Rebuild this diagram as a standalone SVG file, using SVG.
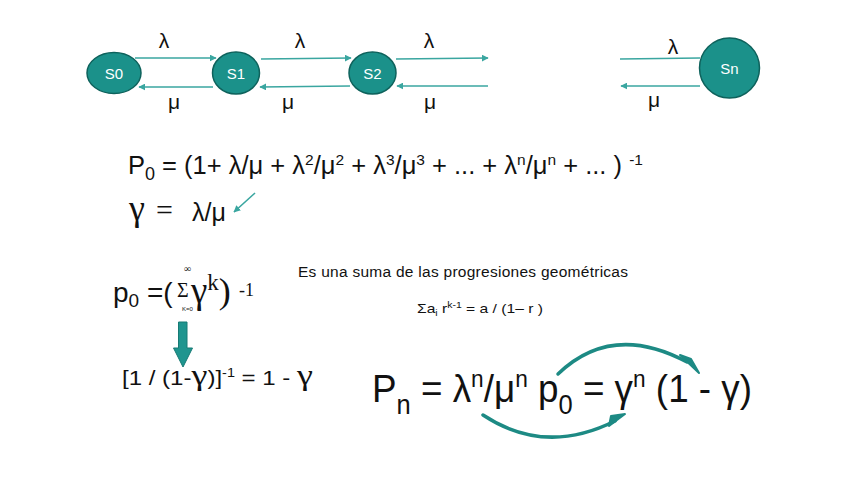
<svg xmlns="http://www.w3.org/2000/svg" width="848" height="477" viewBox="0 0 848 477">
<style>
.node{fill:#1b918a;stroke:#0e625c;stroke-width:1.5}
.nl{font-family:"Liberation Sans",Arial,sans-serif;font-size:15px;fill:#ffffff;text-anchor:middle}
.t{font-family:"Liberation Sans",Arial,sans-serif;fill:#111111}
.lbl{font-family:"Liberation Sans",Arial,sans-serif;font-size:21px;fill:#111111;text-anchor:middle}
.ln{stroke:#3aa6a0;stroke-width:1.6;fill:none}
.arc{stroke:#1d8a84;stroke-width:3.5;fill:none;stroke-linecap:round}
.serif{font-family:"Liberation Serif","Times New Roman",serif}
</style>
<defs>
<marker id="ah" viewBox="0 0 10 10" refX="9" refY="5" markerWidth="7" markerHeight="7" markerUnits="userSpaceOnUse" orient="auto">
<path d="M0,0 L10,5 L0,10 z" fill="#3aa6a0"/>
</marker>
</defs>
<rect width="848" height="477" fill="#ffffff"/>

<g id="connectors">
<line class="ln" x1="135" y1="58" x2="216" y2="58" marker-end="url(#ah)"/>
<line class="ln" x1="213" y1="87" x2="139" y2="87" marker-end="url(#ah)"/>
<line class="ln" x1="261" y1="59" x2="351" y2="58" marker-end="url(#ah)"/>
<line class="ln" x1="350" y1="86" x2="260" y2="87" marker-end="url(#ah)"/>
<line class="ln" x1="396" y1="59" x2="488" y2="58" marker-end="url(#ah)"/>
<line class="ln" x1="488" y1="86" x2="397" y2="86" marker-end="url(#ah)"/>
<line class="ln" x1="620" y1="59" x2="700" y2="58"/>
<line class="ln" x1="700" y1="86" x2="621" y2="86" marker-end="url(#ah)"/>
<line class="ln" x1="255" y1="193" x2="234" y2="212" marker-end="url(#ah)"/>
</g>

<g id="S0"><ellipse class="node" cx="114" cy="73" rx="27" ry="20.5"/><text class="nl" x="114" y="78.5">S0</text></g>
<g id="S1"><ellipse class="node" cx="236" cy="73" rx="23.5" ry="21"/><text class="nl" x="236" y="78.5">S1</text></g>
<g id="S2"><ellipse class="node" cx="372.5" cy="73" rx="23.5" ry="21"/><text class="nl" x="372.5" y="78.5">S2</text></g>
<g id="Sn"><ellipse class="node" cx="729.5" cy="68" rx="30" ry="30"/><text class="nl" x="729.5" y="73.5">Sn</text></g>

<g id="labels">
<text class="lbl" x="164" y="48">λ</text>
<text class="lbl" x="300" y="48">λ</text>
<text class="lbl" x="429" y="48">λ</text>
<text class="lbl" x="673" y="54">λ</text>
<text class="lbl" x="174" y="109">μ</text>
<text class="lbl" x="288" y="109">μ</text>
<text class="lbl" x="430" y="109">μ</text>
<text class="lbl" x="654" y="107">μ</text>
</g>

<text class="t" x="128" y="174" font-size="25.5">P<tspan font-size="18" dy="6">0</tspan><tspan dy="-6"> = (1+ λ/μ + λ</tspan><tspan font-size="15.5" dy="-9">2</tspan><tspan dy="9">/μ</tspan><tspan font-size="15.5" dy="-9">2</tspan><tspan dy="9"> + λ</tspan><tspan font-size="15.5" dy="-9">3</tspan><tspan dy="9">/μ</tspan><tspan font-size="15.5" dy="-9">3</tspan><tspan dy="9"> + ... + λ</tspan><tspan font-size="15.5" dy="-9">n</tspan><tspan dy="9">/μ</tspan><tspan font-size="15.5" dy="-9">n</tspan><tspan dy="9"> + ... ) </tspan><tspan font-size="15.5" dy="-9">-1</tspan></text>

<text class="t serif" x="129" y="220" font-size="36">γ</text>
<text class="t serif" x="156" y="220" font-size="30">=</text>
<text class="t" x="192" y="221" font-size="25">λ/μ</text>

<text class="t" x="113" y="302" font-size="28">p<tspan font-size="19" dy="5">0</tspan><tspan dy="-5"> =(</tspan></text>
<text class="t serif" x="177" y="297" font-size="20">Σ</text>
<text class="t serif" x="184" y="272" font-size="10">∞</text>
<text class="t" x="182" y="311" font-size="6">K=0</text>
<text class="t serif" x="191" y="303" font-size="37">γ<tspan font-size="23" dy="-13">k</tspan><tspan font-size="36" dy="13">)</tspan></text>
<text class="t serif" x="239" y="296" font-size="18">-1</text>

<path id="down-arrow" d="M178.5,322 L187,322 L187,348 L192.5,348 L183,367 L173.5,348 L178.5,348 z" fill="#1f958f" stroke="#167a74" stroke-width="1"/>

<text class="t" x="122" y="385" font-size="20" textLength="191" lengthAdjust="spacingAndGlyphs">[1 / (1-<tspan class="serif" font-size="30">γ</tspan>)]<tspan font-size="12" dy="-8">-1</tspan><tspan dy="8"> = 1 - </tspan><tspan class="serif" font-size="30">γ</tspan></text>

<text class="t" x="298" y="277" font-size="15.5" textLength="330" lengthAdjust="spacing">Es una suma de las progresiones geométricas</text>
<text class="t" x="417" y="313" font-size="13.5" textLength="126" lengthAdjust="spacingAndGlyphs">Σa<tspan font-size="9" dy="3">i</tspan><tspan dy="-3"> r</tspan><tspan font-size="9" dy="-5">k-1</tspan><tspan dy="5"> = a / (1– r )</tspan></text>

<text class="t" x="372" y="402" font-size="39" textLength="380" lengthAdjust="spacingAndGlyphs">P<tspan font-size="27" dy="12">n</tspan><tspan dy="-12"> = λ</tspan><tspan font-size="24" dy="-15">n</tspan><tspan dy="15">/μ</tspan><tspan font-size="24" dy="-15">n</tspan><tspan dy="15"> p</tspan><tspan font-size="27" dy="12">0</tspan><tspan dy="-12"> = γ</tspan><tspan font-size="24" dy="-15">n</tspan><tspan dy="15"> (1 - γ)</tspan></text>

<g id="curves">
<path class="arc" d="M558,374 Q612,322 687,362"/>
<path d="M680,355 L699,373 L691,359 z" fill="#1d8a84" stroke="#1d8a84" stroke-width="2" stroke-linejoin="round"/>
<path class="arc" d="M483,415 Q545,456 615,421"/>
<path d="M609,426 L625,414 L611,416 z" fill="#1d8a84" stroke="#1d8a84" stroke-width="2" stroke-linejoin="round"/>
</g>
</svg>
